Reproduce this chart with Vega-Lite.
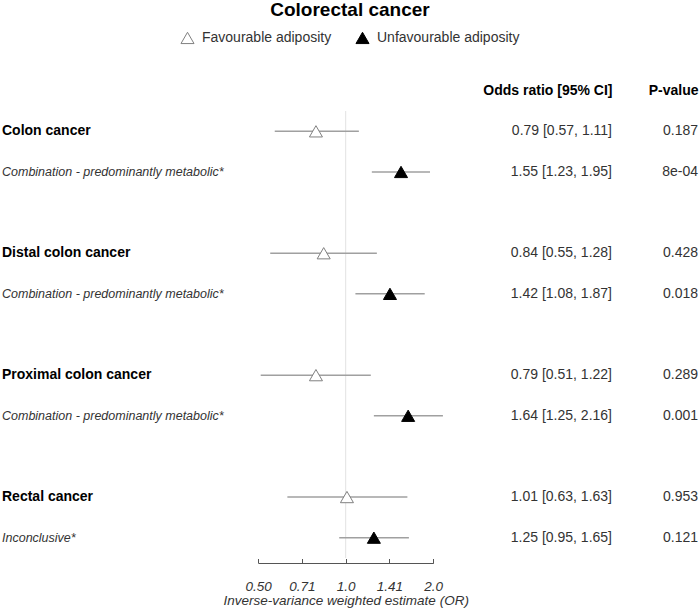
{
  "$schema": "https://vega.github.io/schema/vega-lite/v6.json",
  "width": 700,
  "height": 447,
  "autosize": {"type": "none"},
  "padding": {"top": 111, "bottom": 54, "left": 0, "right": 0},
  "background": "white",
  "config": {"font": "Liberation Sans", "view": {"stroke": null}},
  "title": {"text": "Colorectal cancer", "fontSize": 19, "fontWeight": "bold", "color": "black", "anchor": "middle", "frame": "group", "offset": 10},
  "data": {"values": [
    {"pos": 0, "label": "Colon cancer", "kind": "main", "type": "Favourable adiposity", "or": 0.79, "lo": 0.57, "hi": 1.11, "ortext": "0.79 [0.57, 1.11]", "pval": "0.187"},
    {"pos": 1, "label": "Combination - predominantly metabolic*", "kind": "sub", "type": "Unfavourable adiposity", "or": 1.55, "lo": 1.23, "hi": 1.95, "ortext": "1.55 [1.23, 1.95]", "pval": "8e-04"},
    {"pos": 3, "label": "Distal colon cancer", "kind": "main", "type": "Favourable adiposity", "or": 0.84, "lo": 0.55, "hi": 1.28, "ortext": "0.84 [0.55, 1.28]", "pval": "0.428"},
    {"pos": 4, "label": "Combination - predominantly metabolic*", "kind": "sub", "type": "Unfavourable adiposity", "or": 1.42, "lo": 1.08, "hi": 1.87, "ortext": "1.42 [1.08, 1.87]", "pval": "0.018"},
    {"pos": 6, "label": "Proximal colon cancer", "kind": "main", "type": "Favourable adiposity", "or": 0.79, "lo": 0.51, "hi": 1.22, "ortext": "0.79 [0.51, 1.22]", "pval": "0.289"},
    {"pos": 7, "label": "Combination - predominantly metabolic*", "kind": "sub", "type": "Unfavourable adiposity", "or": 1.64, "lo": 1.25, "hi": 2.16, "ortext": "1.64 [1.25, 2.16]", "pval": "0.001"},
    {"pos": 9, "label": "Rectal cancer", "kind": "main", "type": "Favourable adiposity", "or": 1.01, "lo": 0.63, "hi": 1.63, "ortext": "1.01 [0.63, 1.63]", "pval": "0.953"},
    {"pos": 10, "label": "Inconclusive*", "kind": "sub", "type": "Unfavourable adiposity", "or": 1.25, "lo": 0.95, "hi": 1.65, "ortext": "1.25 [0.95, 1.65]", "pval": "0.121"}
  ]},
  "layer": [
    {
      "layer": [
        {
          "data": {"values": [{"ref": 1}]},
          "mark": {"type": "rule", "color": "#e2e2e2", "strokeWidth": 1},
          "encoding": {
            "x": {"field": "ref", "type": "quantitative"}
          }
        },
        {
          "mark": {"type": "rule", "color": "#a0a0a0", "strokeWidth": 1.5},
          "encoding": {
            "x": {"field": "lo", "type": "quantitative"},
            "x2": {"field": "hi"},
            "y": {"field": "pos", "type": "quantitative"}
          }
        },
        {
          "mark": {"type": "point", "shape": "triangle-up", "filled": true, "size": 170, "opacity": 1, "strokeWidth": 1},
          "encoding": {
            "x": {"field": "or", "type": "quantitative"},
            "y": {"field": "pos", "type": "quantitative"},
            "fill": {"field": "type", "type": "nominal", "scale": {"domain": ["Favourable adiposity", "Unfavourable adiposity"], "range": ["white", "black"]},
              "legend": {"title": null, "orient": "none", "legendX": 180, "legendY": -81, "direction": "horizontal", "symbolType": "triangle-up", "symbolSize": 170, "labelFontSize": 14, "labelColor": "#333", "labelOffset": 7, "columnPadding": 21, "padding": 0, "symbolStrokeWidth": 1}},
            "stroke": {"field": "type", "type": "nominal", "scale": {"domain": ["Favourable adiposity", "Unfavourable adiposity"], "range": ["#808080", "black"]}}
          }
        }
      ],
      "encoding": {
        "x": {"type": "quantitative",
          "scale": {"type": "log", "domain": [0.5, 2], "range": [258.2, 433.2], "nice": false},
          "axis": {"orient": "bottom", "values": [0.5, 0.7071, 1, 1.4142, 2], "offset": 5, "grid": false,
            "labelExpr": "datum.value < 0.6 ? '0.50' : datum.value < 0.8 ? '0.71' : datum.value < 1.2 ? '1.0' : datum.value < 1.6 ? '1.41' : '2.0'",
            "labelFlush": false, "labelOverlap": false, "labelBound": false,
            "tickSize": -4.5, "tickColor": "#555", "domainColor": "#555", "labelFontSize": 13.5, "labelFontStyle": "italic", "labelColor": "#333", "labelPadding": 21,
            "title": "Inverse-variance weighted estimate (OR)", "titleFontSize": 13.5, "titleFontStyle": "italic", "titleFontWeight": "normal", "titleColor": "#333", "titlePadding": 0}}
      }
    },
    {
      "layer": [
        {
          "transform": [{"filter": "datum.kind == 'main'"}],
          "mark": {"type": "text", "align": "left", "baseline": "middle", "fontSize": 14, "fontWeight": "bold", "color": "black"},
          "encoding": {
            "x": {"datum": "label", "type": "nominal", "scale": {"type": "point", "range": [2, 2], "padding": 0}, "axis": null},
            "y": {"field": "pos", "type": "quantitative"},
            "text": {"field": "label"}
          }
        },
        {
          "transform": [{"filter": "datum.kind == 'sub'"}],
          "mark": {"type": "text", "align": "left", "baseline": "middle", "fontSize": 12.5, "fontStyle": "italic", "color": "#333"},
          "encoding": {
            "x": {"datum": "label", "type": "nominal", "scale": {"type": "point", "range": [2, 2], "padding": 0}, "axis": null},
            "y": {"field": "pos", "type": "quantitative"},
            "text": {"field": "label"}
          }
        }
      ]
    },
    {
      "transform": [{"fold": ["ortext", "pval"], "as": ["key", "val"]}],
      "mark": {"type": "text", "align": "right", "baseline": "middle", "fontSize": 14, "color": "#333"},
      "encoding": {
        "x": {"field": "key", "type": "nominal",
          "scale": {"type": "point", "domain": ["ortext", "pval"], "range": [612, 698], "padding": 0},
          "axis": {"orient": "top", "title": null, "domain": false, "ticks": false, "labelAngle": 0, "labelAlign": "right",
            "labelExpr": "datum.value == 'ortext' ? 'Odds ratio [95% CI]' : 'P-value'",
            "labelFontSize": 14, "labelFontWeight": "bold", "labelColor": "black", "labelPadding": 14}},
        "y": {"field": "pos", "type": "quantitative"},
        "text": {"field": "val"}
      }
    }
  ],
  "encoding": {
    "y": {"type": "quantitative", "scale": {"domain": [-0.5, 10.5], "reverse": true, "nice": false, "zero": false}, "axis": null}
  },
  "resolve": {"scale": {"x": "independent"}, "axis": {"x": "independent"}}
}
